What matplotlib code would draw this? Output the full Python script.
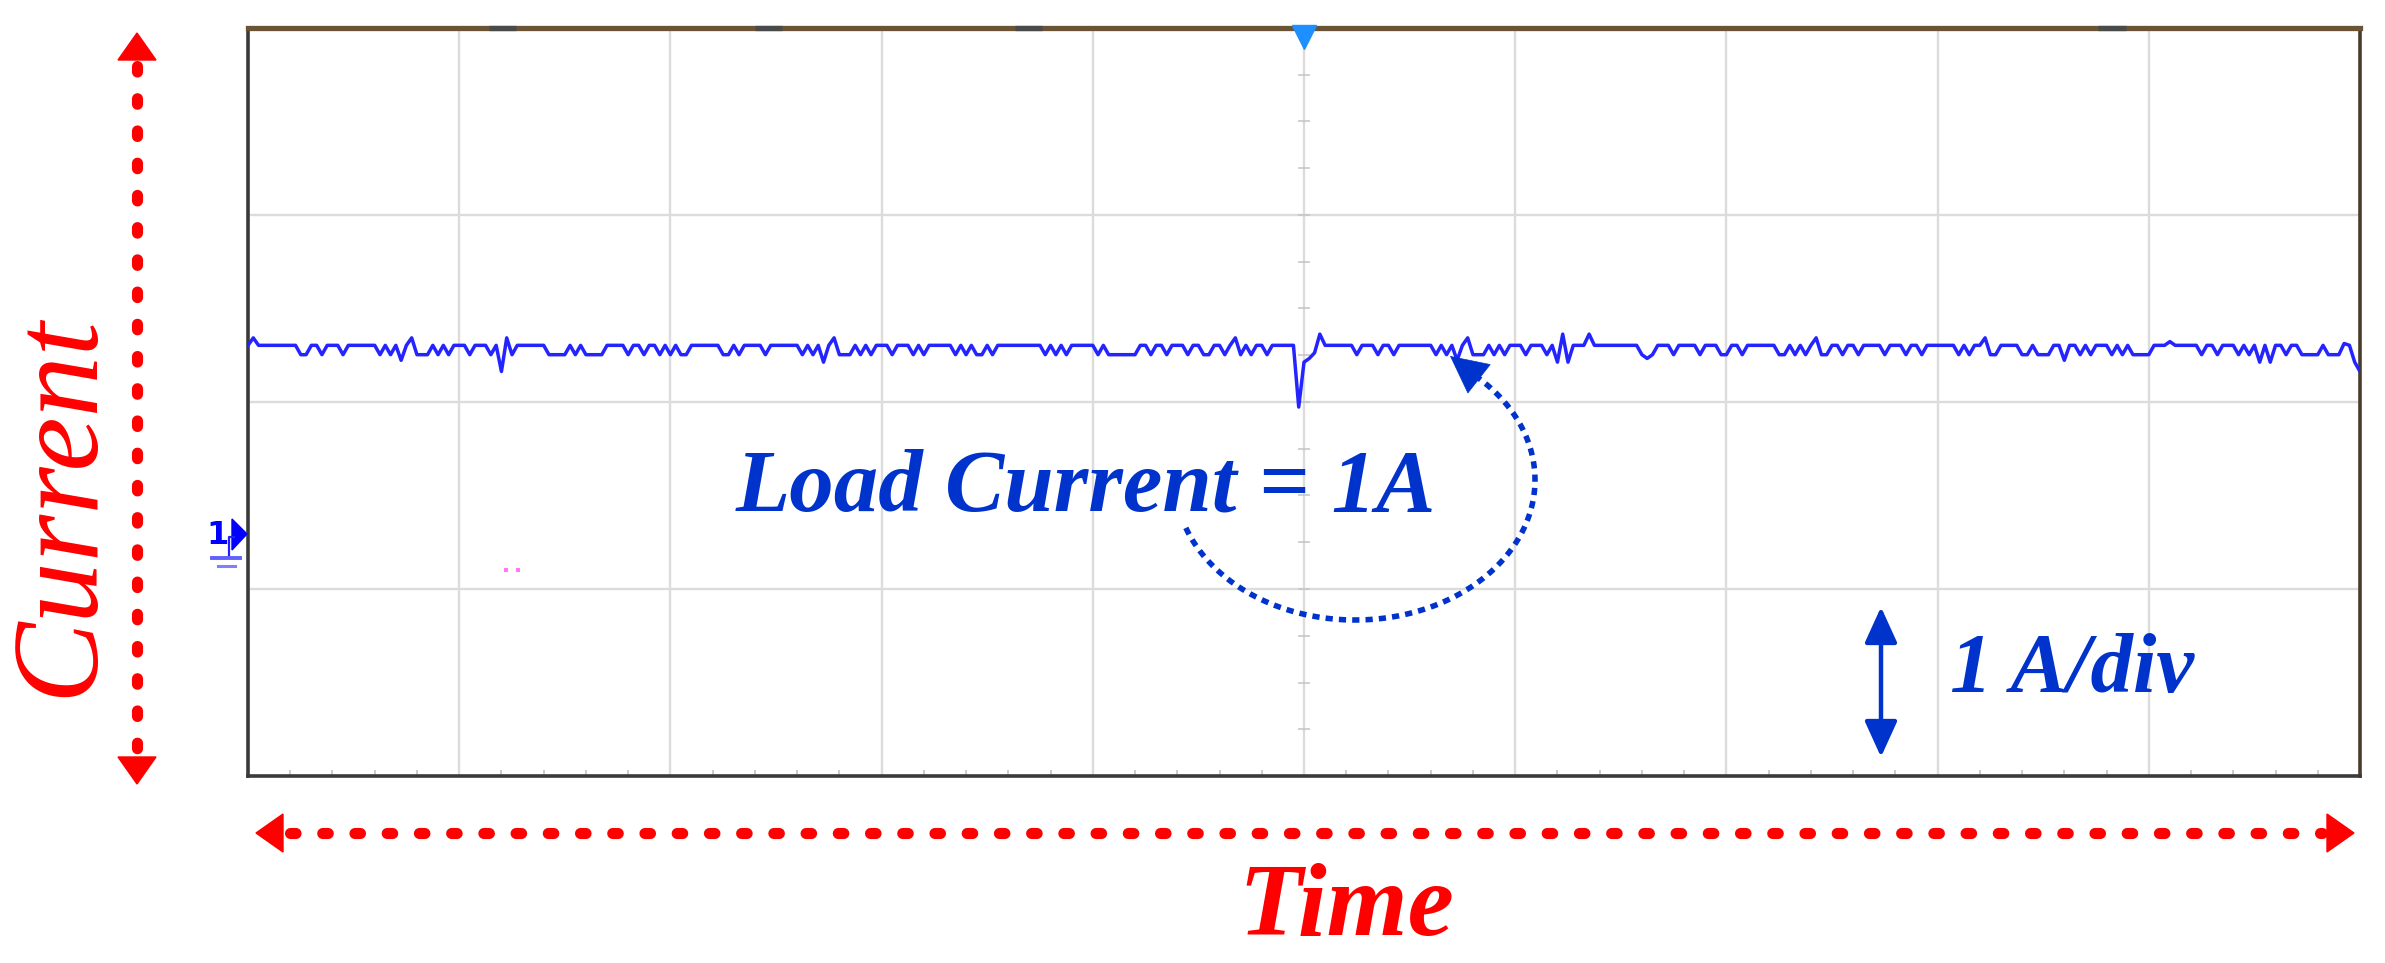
import numpy as np
import matplotlib
matplotlib.use('Agg')
import matplotlib.pyplot as plt
from matplotlib.ticker import MultipleLocator
from matplotlib.patches import Polygon, FancyArrowPatch

# channel 1 trace, load current in A, 40 samples per time division
current = [
    1.02, 1.06, 1.02, 1.02, 1.02, 1.02, 1.02, 1.02, 1.02, 1.02,
    0.97, 0.97, 1.02, 1.02, 0.97, 1.02, 1.02, 1.02, 0.97, 1.02,
    1.02, 1.02, 1.02, 1.02, 1.02, 0.97, 1.02, 0.97, 1.02, 0.94,
    1.02, 1.06, 0.97, 0.97, 0.97, 1.02, 0.97, 1.02, 0.97, 1.02,
    # div 1
    1.02, 1.02, 0.97, 1.02, 1.02, 1.02, 0.97, 1.02, 0.88, 1.06,
    0.97, 1.02, 1.02, 1.02, 1.02, 1.02, 1.02, 0.97, 0.97, 0.97,
    0.97, 1.02, 0.97, 1.02, 0.97, 0.97, 0.97, 0.97, 1.02, 1.02,
    1.02, 1.02, 0.97, 1.02, 1.02, 0.97, 1.02, 1.02, 0.97, 1.02,
    # div 2
    0.97, 1.02, 0.97, 0.97, 1.02, 1.02, 1.02, 1.02, 1.02, 1.02,
    0.97, 0.97, 1.02, 0.97, 1.02, 1.02, 1.02, 1.02, 0.97, 1.02,
    1.02, 1.02, 1.02, 1.02, 1.02, 0.97, 1.02, 0.97, 1.02, 0.93,
    1.02, 1.06, 0.97, 0.97, 0.97, 1.02, 0.97, 1.02, 0.97, 1.02,
    # div 3
    1.02, 1.02, 0.97, 1.02, 1.02, 1.02, 0.97, 1.02, 0.97, 1.02,
    1.02, 1.02, 1.02, 1.02, 0.97, 1.02, 0.97, 1.02, 0.97, 0.97,
    1.02, 0.97, 1.02, 1.02, 1.02, 1.02, 1.02, 1.02, 1.02, 1.02,
    1.02, 0.97, 1.02, 0.97, 1.02, 0.97, 1.02, 1.02, 1.02, 1.02,
    # div 4
    1.02, 0.97, 1.02, 0.97, 0.97, 0.97, 0.97, 0.97, 0.97, 1.02,
    1.02, 0.97, 1.02, 1.02, 0.97, 1.02, 1.02, 1.02, 0.97, 1.02,
    1.02, 0.97, 0.97, 1.02, 1.02, 0.97, 1.02, 1.06, 0.97, 1.02,
    0.97, 1.02, 1.02, 0.97, 1.02, 1.02, 1.02, 1.02, 1.02, 0.69,
    # div 5
    0.93, 0.95, 0.98, 1.08, 1.02, 1.02, 1.02, 1.02, 1.02, 1.02,
    0.97, 1.02, 1.02, 1.02, 0.97, 1.02, 1.02, 0.97, 1.02, 1.02,
    1.02, 1.02, 1.02, 1.02, 1.02, 0.97, 1.02, 0.97, 1.02, 0.94,
    1.02, 1.06, 0.97, 0.97, 0.97, 1.02, 0.97, 1.02, 0.97, 1.02,
    # div 6
    1.02, 1.02, 0.97, 1.02, 1.02, 1.02, 0.97, 1.02, 0.93, 1.08,
    0.93, 1.02, 1.02, 1.02, 1.08, 1.02, 1.02, 1.02, 1.02, 1.02,
    1.02, 1.02, 1.02, 1.02, 0.97, 0.95, 0.97, 1.02, 1.02, 1.02,
    0.97, 1.02, 1.02, 1.02, 1.02, 0.97, 1.02, 1.02, 1.02, 0.97,
    # div 7
    0.97, 1.02, 1.02, 0.97, 1.02, 1.02, 1.02, 1.02, 1.02, 1.02,
    0.97, 0.97, 1.02, 0.97, 1.02, 0.97, 1.02, 1.06, 0.97, 0.97,
    1.02, 1.02, 0.97, 1.02, 1.02, 0.97, 1.02, 1.02, 1.02, 1.02,
    0.97, 1.02, 1.02, 1.02, 0.97, 1.02, 1.02, 0.97, 1.02, 1.02,
    # div 8
    1.02, 1.02, 1.02, 1.02, 0.97, 1.02, 0.97, 1.02, 1.02, 1.06,
    0.97, 0.97, 1.02, 1.02, 1.02, 1.02, 0.97, 0.97, 1.02, 0.97,
    0.97, 0.97, 1.02, 1.02, 0.94, 1.02, 1.02, 0.97, 1.02, 0.97,
    1.02, 1.02, 1.02, 0.97, 1.02, 0.97, 1.02, 0.97, 0.97, 0.97,
    # div 9
    0.97, 1.02, 1.02, 1.02, 1.04, 1.02, 1.02, 1.02, 1.02, 1.02,
    0.97, 1.02, 1.02, 0.97, 1.02, 1.02, 1.02, 0.97, 1.02, 0.97,
    1.02, 0.93, 1.02, 0.93, 1.02, 1.02, 0.97, 1.02, 1.02, 0.97,
    0.97, 0.97, 0.97, 1.02, 0.97, 0.97, 0.97, 1.03, 1.02, 0.93,
    0.88,
]
time = np.linspace(0, 10, len(current))  # time in divisions

n_xdiv = 10
n_ydiv = 4
screen_bottom = -1.283   # A, bottom of screen relative to ch1 ground (1 A/div)

top_marks = [1.14, 2.40, 3.63, 8.76]   # small dark markers on top frame (div)

blue = '#0033cc'
red = '#ff0000'
serif = 'Liberation Serif'

W, H = 2385, 963
fig = plt.figure(figsize=(W / 100, H / 100), dpi=100)


def fx(x):
    return np.asarray(x, dtype=float) / W


def fy(y):
    return 1 - np.asarray(y, dtype=float) / H


ax = fig.add_axes([fx(248), fy(776), (2360 - 248) / W, (776 - 28) / H])
ax.plot(time, current, color='#2424ff', lw=2.5, zorder=3)
ax.set_xlim(0, n_xdiv)
ax.set_ylim(screen_bottom, screen_bottom + n_ydiv)
ax.set_xticks(np.arange(1, n_xdiv))
ax.set_yticks(screen_bottom + np.arange(1, n_ydiv))
ax.grid(True, color='#dcdcdc', lw=1.7)
ax.tick_params(which='major', length=0, labelbottom=False, labelleft=False)
ax.xaxis.set_minor_locator(MultipleLocator(0.2))
ax.tick_params(axis='x', which='minor', direction='in', length=4,
               color='#bdbdbd', width=1.1)
ax.tick_params(axis='y', which='minor', length=0)

for side in ['left', 'bottom']:
    ax.spines[side].set_color('#3a3a3a')
    ax.spines[side].set_linewidth(2.6)
ax.spines['right'].set_color('#4a3c2a')
ax.spines['right'].set_linewidth(2.6)
ax.spines['top'].set_color('#6b5436')
ax.spines['top'].set_linewidth(3.8)

# ticks along the centre vertical line
cy_ticks = screen_bottom + np.arange(0.25, n_ydiv, 0.25)
ax.plot(np.full(len(cy_ticks), n_xdiv / 2), cy_ticks, ls='none', marker='_',
        ms=8, mew=1.1, color='#c4c4c4', zorder=2)

xt = ax.get_xaxis_transform()
for m in top_marks:
    ax.plot([m, m + 0.13], [1, 1], transform=xt, color='#4a4a4a', lw=3.8,
            solid_capstyle='butt', clip_on=False, zorder=5)
# trigger marker
ax.plot([n_xdiv / 2], [0.988], transform=xt, marker='v', ms=17,
        color='#1e8fff', mec='#1e8fff', clip_on=False, zorder=6)

# ch1 ground marker
fig.text(fx(218), fy(535), '1', color='#0000ff', fontsize=23,
         fontweight='bold', ha='center', va='center')
fig.patches.append(Polygon([[fx(232), fy(519)], [fx(232), fy(550)], [fx(247), fy(534)]],
                           closed=True, transform=fig.transFigure, color='#0000ff'))
fig.lines.append(plt.Line2D(fx([229, 229, 234]), fy([557, 537, 537]), transform=fig.transFigure,
                            color='#2020ff', lw=1.6))
fig.lines.append(plt.Line2D(fx([212, 240]), fy([558, 558]), transform=fig.transFigure,
                            color='#6060ff', lw=2.8))
fig.lines.append(plt.Line2D(fx([218, 235]), fy([566, 566]), transform=fig.transFigure,
                            color='#8080ff', lw=2.2))
fig.lines.append(plt.Line2D(fx([506, 518]), fy([570, 570]), transform=fig.transFigure,
                            ls='none', marker='s', ms=2.2, color='#ff77ff', mew=0))

# labels inside the screen
fig.text(fx(1086), fy(510), 'Load Current = 1A', color=blue, fontsize=64,
         fontweight='bold', fontstyle='italic', family=serif, ha='center', va='baseline')
fig.text(fx(2072), fy(692), '1 A/div', color=blue, fontsize=61,
         fontweight='bold', fontstyle='italic', family=serif, ha='center', va='baseline')

# dotted curved pointer
th = np.radians(np.linspace(200, 408, 120))
ex = 1355 + 180 * np.cos(th)
ey = 480 - 140 * np.sin(th)
fig.lines.append(plt.Line2D(fx(ex), fy(ey), transform=fig.transFigure, color=blue,
                            lw=4.0, ls=(0, (1.3, 1.1))))
fig.patches.append(FancyArrowPatch((fx(ex[-1]), fy(ey[-1])), (fx(1450), fy(356)),
                                   transform=fig.transFigure,
                                   arrowstyle='-|>,head_length=0.5,head_width=0.25',
                                   mutation_scale=52, color=blue, lw=0.5,
                                   shrinkA=0, shrinkB=0))

# 1 A/div scale arrow
fig.patches.append(FancyArrowPatch((fx(1881), fy(757)), (fx(1881), fy(607)),
                                   transform=fig.transFigure,
                                   arrowstyle='<|-|>,head_length=0.55,head_width=0.25',
                                   mutation_scale=40, color=blue, lw=3.2,
                                   shrinkA=0, shrinkB=0))

# red axis arrows
dots = (0, (0.5, 2.4))
fig.lines.append(plt.Line2D(fx([137, 137]), fy([66, 752]), transform=fig.transFigure,
                            color=red, lw=8, ls=dots, dash_capstyle='round'))
fig.patches.append(Polygon([[fx(118), fy(60)], [fx(156), fy(60)], [fx(137), fy(33)]],
                           closed=True, transform=fig.transFigure, color=red))
fig.patches.append(Polygon([[fx(118), fy(757)], [fx(156), fy(757)], [fx(137), fy(784)]],
                           closed=True, transform=fig.transFigure, color=red))

fig.lines.append(plt.Line2D(fx([290, 2322]), fy([833, 833]), transform=fig.transFigure,
                            color=red, lw=8, ls=dots, dash_capstyle='round'))
fig.patches.append(Polygon([[fx(283), fy(814)], [fx(283), fy(852)], [fx(256), fy(833)]],
                           closed=True, transform=fig.transFigure, color=red))
fig.patches.append(Polygon([[fx(2327), fy(814)], [fx(2327), fy(852)], [fx(2354), fy(833)]],
                           closed=True, transform=fig.transFigure, color=red))

fig.text(fx(61), fy(506), 'Current', color=red, fontsize=88, fontstyle='italic',
         family=serif, rotation=90, ha='center', va='center')
fig.text(fx(1346), fy(935), 'Time', color=red, fontsize=75, fontweight='bold',
         fontstyle='italic', family=serif, ha='center', va='baseline')

fig.savefig('out.png', dpi=100, facecolor='white')
